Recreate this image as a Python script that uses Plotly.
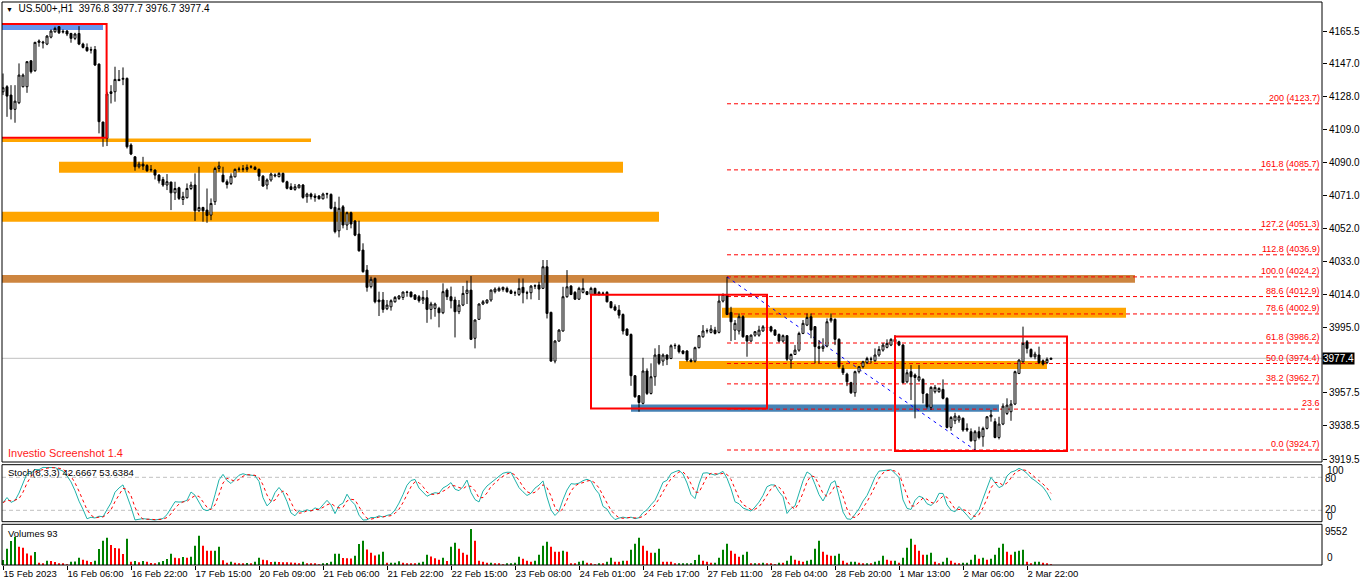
import pandas as pd
import plotly.graph_objects as go

# US.500+ H1 bars, first bar 15 Feb 2023 13:00
opens = [
    4130.6, 4133.5, 4128.7, 4120.5, 4124.3, 4133.5, 4133.5, 4148.4, 4142.7, 4159.0,
    4158.6, 4158.0, 4162.0, 4165.1, 4168.0, 4164.9, 4165.5, 4164.1, 4161.3, 4164.1,
    4158.0, 4156.1, 4154.8, 4154.9, 4146.5, 4113.2, 4103.8, 4130.6, 4130.6, 4137.7,
    4137.8, 4138.3, 4100.0, 4093.2, 4087.5, 4089.0, 4088.2, 4086.0, 4085.6, 4082.7,
    4080.2, 4077.0, 4078.7, 4072.5, 4075.4, 4068.7, 4069.7, 4075.0, 4077.0, 4062.2,
    4064.1, 4062.6, 4059.7, 4067.4, 4086.5, 4082.7, 4078.9, 4077.9, 4081.7, 4086.0,
    4086.0, 4086.0, 4087.3, 4087.1, 4086.0, 4082.1, 4077.0, 4079.9, 4082.2, 4081.8,
    4083.7, 4078.9, 4076.0, 4074.5, 4075.4, 4077.0, 4070.3, 4071.8, 4070.7, 4070.7,
    4069.1, 4071.8, 4071.6, 4064.2, 4050.7, 4064.5, 4054.0, 4061.1, 4056.3, 4048.8,
    4039.6, 4028.1, 4018.6, 4023.3, 4010.9, 4010.9, 4005.9, 4007.0, 4009.9, 4011.8,
    4012.4, 4015.5, 4015.5, 4013.8, 4012.8, 4010.9, 4012.2, 4005.5, 4006.1, 4006.1,
    4003.6, 4016.6, 4012.8, 4010.9, 4004.2, 4008.0, 4014.7, 4016.6, 3988.9, 3999.8,
    4008.6, 4009.4, 4010.9, 4015.7, 4016.2, 4017.0, 4017.6, 4016.2, 4015.1, 4014.1,
    4018.2, 4015.1, 4015.1, 4018.9, 4019.5, 4017.6, 4030.0, 4003.8, 3975.8, 3987.3,
    3993.1, 4012.8, 4018.9, 4015.3, 4011.4, 4015.3, 4015.7, 4014.1, 4017.6, 4014.1,
    4014.9, 4015.3, 4009.9, 4007.0, 4005.1, 4002.6, 3994.2, 3991.1, 3967.4, 3955.9,
    3951.5, 3970.1, 3957.2, 3966.8, 3979.6, 3975.8, 3979.3, 3977.3, 3984.6, 3984.6,
    3981.6, 3981.6, 3976.4, 3975.8, 3983.5, 3989.8, 3993.1, 3992.3, 3993.6, 3992.3,
    4010.3, 4014.1, 4003.8, 3993.6, 3993.1, 4001.3, 3990.4, 3987.3, 3990.7, 3990.7,
    3993.1, 3995.0, 3995.5, 3993.6, 3991.1, 3987.3, 3990.4, 3976.4, 3979.6, 3982.1,
    3991.7, 3996.5, 4001.3, 3995.6, 3984.1, 3983.1, 3984.4, 3999.0, 3999.8, 3988.3,
    3971.6, 3968.3, 3963.4, 3957.6, 3969.7, 3972.6, 3974.9, 3976.8, 3976.0, 3979.3,
    3982.1, 3983.7, 3985.0, 3988.3, 3986.9, 3985.0, 3963.9, 3969.7, 3967.8, 3964.9,
    3965.3, 3956.9, 3949.2, 3958.2, 3958.2, 3959.5, 3954.4, 3937.7, 3941.5, 3941.9,
    3942.9, 3937.1, 3935.2, 3930.0, 3935.2, 3932.3, 3937.1, 3943.8, 3941.0, 3931.9,
    3939.6, 3945.7, 3946.7, 3951.1, 3968.7, 3975.4, 3986.9, 3982.5, 3978.3, 3979.3,
    3976.0, 3974.9, 3976.8]
highs = [
    4141.1, 4134.4, 4134.4, 4134.4, 4146.9, 4141.1, 4147.9, 4148.8, 4159.3, 4160.7,
    4159.9, 4163.2, 4166.4, 4168.0, 4168.4, 4166.4, 4166.1, 4164.5, 4164.5, 4168.3,
    4158.8, 4158.4, 4156.5, 4156.9, 4146.9, 4113.4, 4130.6, 4134.4, 4145.0, 4143.1,
    4144.6, 4138.8, 4101.0, 4093.6, 4090.4, 4093.2, 4089.0, 4088.5, 4086.0, 4083.3,
    4081.7, 4083.3, 4078.9, 4078.9, 4076.0, 4073.1, 4077.9, 4078.9, 4083.7, 4087.5,
    4064.5, 4075.0, 4069.3, 4087.5, 4090.4, 4087.5, 4080.2, 4083.7, 4086.5, 4087.5,
    4088.5, 4088.8, 4088.5, 4088.0, 4086.5, 4082.7, 4080.8, 4084.1, 4083.7, 4084.3,
    4084.1, 4079.5, 4078.0, 4077.6, 4077.6, 4077.6, 4072.6, 4072.6, 4072.2, 4071.2,
    4072.6, 4072.6, 4072.2, 4067.4, 4070.3, 4065.5, 4061.7, 4061.7, 4056.9, 4056.5,
    4043.5, 4031.0, 4024.3, 4023.9, 4015.7, 4015.5, 4010.9, 4011.3, 4013.2, 4013.8,
    4015.7, 4016.2, 4015.7, 4014.3, 4013.8, 4016.2, 4016.6, 4009.9, 4009.4, 4007.0,
    4020.5, 4017.6, 4018.6, 4012.8, 4010.9, 4019.0, 4022.0, 4024.7, 3999.8, 4009.0,
    4010.9, 4011.3, 4017.0, 4018.2, 4018.6, 4018.6, 4018.6, 4017.0, 4016.2, 4023.3,
    4023.3, 4016.2, 4019.5, 4019.9, 4021.4, 4033.9, 4033.9, 4004.2, 3987.9, 3994.2,
    4018.5, 4028.1, 4019.5, 4016.0, 4018.5, 4023.3, 4016.0, 4018.5, 4018.0, 4016.0,
    4015.7, 4016.0, 4010.3, 4008.4, 4008.0, 4003.2, 3994.6, 3991.7, 3967.8, 3956.3,
    3977.7, 3971.6, 3974.5, 3983.1, 3985.0, 3980.2, 3979.6, 3985.4, 3986.0, 3985.4,
    3982.1, 3982.1, 3977.3, 3984.1, 3990.7, 3996.5, 3994.6, 3996.5, 3995.5, 4014.1,
    4014.7, 4024.2, 4007.0, 3999.4, 4003.2, 4002.2, 3990.7, 3991.1, 3993.1, 3996.1,
    3996.5, 3996.1, 3996.1, 3994.2, 3991.7, 3991.1, 3990.7, 3980.2, 3985.0, 3992.7,
    3999.4, 4003.2, 4003.2, 3995.9, 3987.9, 3988.9, 4000.3, 4003.2, 4000.3, 3988.9,
    3973.5, 3969.1, 3963.9, 3970.3, 3972.9, 3976.0, 3978.3, 3978.3, 3983.1, 3984.4,
    3986.3, 3988.3, 3988.9, 3990.8, 3987.5, 3985.6, 3971.0, 3973.5, 3968.7, 3973.5,
    3965.9, 3957.2, 3961.4, 3962.1, 3960.7, 3965.3, 3955.0, 3944.2, 3946.1, 3944.8,
    3943.4, 3940.0, 3937.1, 3936.2, 3938.1, 3938.1, 3944.2, 3947.7, 3942.9, 3943.8,
    3951.5, 3954.4, 3953.4, 3970.3, 3976.8, 3995.6, 3987.9, 3983.1, 3981.2, 3984.1,
    3976.8, 3977.9, 3977.7]
lows = [
    4128.7, 4116.2, 4114.7, 4112.8, 4123.5, 4133.1, 4130.0, 4141.1, 4142.1, 4156.5,
    4155.5, 4157.4, 4161.3, 4164.5, 4163.8, 4164.1, 4162.6, 4158.8, 4160.3, 4157.4,
    4155.5, 4153.6, 4152.6, 4145.4, 4106.7, 4099.0, 4099.4, 4123.9, 4124.9, 4136.8,
    4134.4, 4098.0, 4094.2, 4085.2, 4086.5, 4085.6, 4084.6, 4084.6, 4080.2, 4077.9,
    4076.0, 4074.1, 4062.6, 4068.4, 4068.4, 4065.5, 4069.3, 4074.1, 4056.4, 4061.6,
    4055.9, 4055.3, 4056.8, 4065.5, 4084.6, 4078.5, 4075.0, 4077.0, 4081.4, 4084.6,
    4084.6, 4084.6, 4086.5, 4085.6, 4079.4, 4076.0, 4074.5, 4078.9, 4081.4, 4081.4,
    4078.3, 4074.5, 4074.1, 4073.7, 4075.1, 4069.1, 4066.8, 4068.7, 4067.4, 4068.7,
    4068.7, 4069.3, 4063.0, 4049.2, 4046.9, 4052.1, 4051.1, 4052.1, 4047.6, 4038.7,
    4026.6, 4015.7, 4017.6, 4009.0, 4001.7, 4003.6, 4005.1, 4004.8, 4009.4, 4010.9,
    4010.9, 4012.8, 4012.4, 4010.9, 4009.4, 4008.6, 3997.8, 3999.8, 4001.3, 3995.2,
    4002.8, 4010.9, 4006.1, 3989.4, 4002.8, 4007.4, 4008.6, 3987.9, 3983.1, 3999.4,
    4008.0, 4008.6, 4009.9, 4014.7, 4015.7, 4015.7, 4015.1, 4014.3, 4013.2, 4013.2,
    4009.0, 4011.3, 4011.3, 4017.2, 4010.9, 4017.2, 4000.3, 3975.4, 3974.5, 3986.9,
    3992.7, 4012.2, 4013.7, 4010.9, 4010.9, 4014.7, 4013.7, 4013.7, 4013.7, 4013.4,
    4013.7, 4009.5, 4006.1, 4004.5, 4000.3, 3991.1, 3990.4, 3961.6, 3954.7, 3946.7,
    3950.9, 3956.3, 3956.6, 3961.6, 3973.5, 3973.1, 3973.5, 3976.9, 3982.7, 3980.2,
    3979.6, 3975.4, 3975.0, 3975.0, 3983.1, 3989.2, 3991.7, 3991.7, 3991.1, 3991.7,
    4009.5, 4002.2, 3987.3, 3987.9, 3991.1, 3989.2, 3978.3, 3986.9, 3989.8, 3989.8,
    3992.7, 3993.6, 3992.3, 3990.4, 3986.5, 3986.5, 3975.8, 3971.6, 3979.3, 3981.2,
    3991.3, 3995.9, 3988.9, 3974.5, 3974.5, 3981.2, 3983.7, 3997.9, 3985.0, 3971.6,
    3967.8, 3961.4, 3956.9, 3955.3, 3968.7, 3971.6, 3974.1, 3974.5, 3975.4, 3978.3,
    3981.2, 3983.1, 3984.4, 3986.3, 3984.4, 3963.0, 3963.0, 3953.4, 3942.9, 3963.9,
    3951.5, 3948.6, 3947.7, 3957.2, 3957.6, 3953.8, 3937.1, 3935.8, 3939.6, 3940.4,
    3935.2, 3935.2, 3929.5, 3924.7, 3930.8, 3926.6, 3936.5, 3941.0, 3931.4, 3930.8,
    3939.0, 3944.8, 3941.5, 3950.5, 3968.3, 3974.9, 3980.2, 3977.9, 3976.8, 3974.1,
    3973.3, 3974.1, 3976.7]
closes = [
    4132.9, 4128.1, 4120.5, 4125.2, 4140.2, 4140.2, 4147.9, 4142.1, 4159.0, 4159.8,
    4159.1, 4162.6, 4165.5, 4167.0, 4164.5, 4165.3, 4163.8, 4161.3, 4163.8, 4158.0,
    4156.1, 4154.2, 4154.6, 4146.0, 4113.4, 4104.4, 4129.3, 4129.6, 4137.7, 4137.0,
    4138.3, 4099.0, 4094.8, 4087.5, 4089.0, 4087.9, 4085.2, 4085.8, 4082.7, 4079.4,
    4077.0, 4078.9, 4072.5, 4075.0, 4069.3, 4070.3, 4075.0, 4077.0, 4062.2, 4064.1,
    4062.2, 4059.5, 4066.4, 4086.5, 4087.9, 4078.9, 4077.3, 4082.1, 4086.0, 4086.2,
    4086.3, 4087.1, 4087.5, 4086.0, 4082.1, 4076.4, 4079.9, 4083.3, 4082.7, 4083.7,
    4078.9, 4075.1, 4074.5, 4076.0, 4077.0, 4069.9, 4071.8, 4070.3, 4069.9, 4069.1,
    4071.8, 4072.0, 4063.6, 4050.2, 4063.6, 4054.0, 4061.1, 4054.6, 4048.2, 4039.2,
    4027.2, 4018.2, 4022.8, 4009.9, 4009.9, 4005.5, 4008.0, 4010.5, 4012.4, 4013.2,
    4015.5, 4015.3, 4012.8, 4011.3, 4010.5, 4012.4, 4005.5, 4008.6, 4008.6, 4003.6,
    4015.7, 4012.8, 4010.5, 4004.2, 4008.0, 4014.7, 4016.6, 3988.3, 3999.4, 4008.6,
    4009.9, 4010.9, 4016.6, 4017.2, 4017.6, 4018.2, 4015.7, 4014.7, 4015.0, 4017.6,
    4015.1, 4014.9, 4018.9, 4019.1, 4017.2, 4030.0, 4003.2, 3975.8, 3987.3, 3993.6,
    4012.8, 4018.5, 4014.1, 4011.4, 4017.6, 4017.6, 4014.1, 4017.6, 4014.1, 4015.3,
    4014.7, 4009.9, 4006.5, 4005.1, 4002.2, 3993.1, 3990.7, 3967.4, 3955.3, 3952.0,
    3970.1, 3957.2, 3966.8, 3979.3, 3974.5, 3979.3, 3976.9, 3984.6, 3984.8, 3981.2,
    3980.2, 3976.4, 3975.6, 3983.5, 3990.4, 3993.1, 3993.3, 3994.2, 3991.7, 4010.3,
    4014.1, 4002.6, 3998.4, 3997.5, 4001.3, 3989.8, 3987.3, 3990.7, 3992.7, 3993.6,
    3995.5, 3995.2, 3993.1, 3990.7, 3987.3, 3990.4, 3976.9, 3979.6, 3982.1, 3991.7,
    3997.5, 4000.9, 3993.6, 3984.1, 3983.1, 3984.4, 3998.4, 4000.3, 3988.3, 3972.6,
    3969.1, 3963.9, 3957.6, 3969.7, 3972.6, 3975.4, 3977.3, 3977.0, 3979.3, 3982.5,
    3985.0, 3986.0, 3988.3, 3986.9, 3985.0, 3963.4, 3969.1, 3966.8, 3966.4, 3966.8,
    3957.2, 3949.6, 3960.7, 3960.7, 3960.1, 3954.4, 3937.7, 3943.4, 3944.2, 3943.8,
    3936.2, 3936.2, 3930.0, 3935.2, 3931.9, 3937.1, 3943.8, 3944.8, 3931.9, 3939.6,
    3949.9, 3950.5, 3951.1, 3969.7, 3976.4, 3986.0, 3983.1, 3978.3, 3979.8, 3974.9,
    3974.1, 3976.8, 3977.4]
volumes = [
    1320, 4310, 6340, 7480, 4840, 4580, 3080, 2550, 3430, 616,
    352, 1144, 1056, 792, 352, 264, 176, 880, 900, 1936,
    1408, 1144, 792, 1144, 4224, 6424, 7216, 5280, 4490, 4400,
    2904, 6952, 880, 1056, 704, 1056, 880, 528, 352, 704,
    1056, 1584, 2992, 1936, 1760, 2112, 1936, 2200, 5104, 7744,
    5104, 3784, 3780, 3800, 4840, 1232, 616, 880, 616, 440,
    264, 528, 352, 880, 1936, 1408, 1232, 792, 880, 792,
    704, 700, 690, 616, 352, 880, 440, 264, 260, 176,
    264, 528, 880, 2992, 3000, 1848, 1760, 1750, 2464, 5600,
    6424, 4136, 3256, 2552, 2816, 3520, 616, 620, 630, 968,
    616, 352, 350, 340, 616, 880, 2728, 2288, 1760, 1408,
    1936, 1056, 4840, 5896, 4312, 3256, 2728, 9552, 6424, 1144,
    880, 616, 620, 352, 350, 176, 352, 360, 616, 2200,
    1672, 1144, 880, 1144, 2728, 5104, 6160, 4840, 3520, 3500,
    3784, 3520, 352, 350, 880, 1144, 616, 352, 88, 352,
    350, 880, 1936, 880, 870, 1144, 1140, 4048, 5632, 7216,
    5104, 3784, 3256, 3260, 4312, 880, 870, 860, 352, 360,
    370, 380, 390, 1320, 2728, 1144, 880, 616, 620, 1936,
    4048, 5632, 3784, 2992, 2200, 2728, 3520, 352, 360, 350,
    616, 352, 350, 88, 616, 610, 1144, 2464, 1408, 1144,
    880, 1144, 1408, 4312, 6424, 3520, 2728, 2464, 2470, 2992,
    1144, 616, 880, 890, 616, 352, 360, 350, 880, 1144,
    2464, 1408, 1144, 1150, 616, 1936, 4576, 6952, 5368, 3784,
    2728, 2730, 3256, 880, 352, 880, 1936, 1144, 616, 352,
    616, 620, 1408, 2728, 1672, 1936, 1408, 1672, 2728, 4576,
    5632, 3520, 2728, 3520, 3784, 4048, 880, 352, 880, 890,
    616, 352, 93]

tick_labels = ["15 Feb 2023", "16 Feb 06:00", "16 Feb 22:00", "17 Feb 15:00",
               "20 Feb 09:00", "21 Feb 06:00", "21 Feb 22:00", "22 Feb 15:00",
               "23 Feb 08:00", "24 Feb 01:00", "24 Feb 17:00", "27 Feb 11:00",
               "28 Feb 04:00", "28 Feb 20:00", "1 Mar 13:00", "2 Mar 06:00",
               "2 Mar 22:00"]
bars_per_label = 16
price_ticks = [4165.5, 4147.0, 4128.0, 4109.0, 4090.0, 4071.0, 4052.0, 4033.0,
               4014.0, 3995.0, 3957.5, 3938.5, 3919.5]
last_price = 3977.4

# fibonacci drawn from the 27 Feb high to the 2 Mar low
fib_labels = ["200 (4123.7)", "161.8 (4085.7)", "127.2 (4051.3)", "112.8 (4036.9)",
              "100.0 (4024.2)", "88.6 (4012.9)", "78.6 (4002.9)", "61.8 (3986.2)",
              "50.0 (3974.4)", "38.2 (3962.7)", "23.6", "0.0 (3924.7)"]
fib_prices = [4123.7, 4085.7, 4051.3, 4036.9, 4024.2, 4012.9, 4002.9, 3986.2,
              3974.4, 3962.7, 3948.2, 3924.7]
fib_high_bar, fib_low_bar = 181, 243

# horizontal zones (bar from, bar to, upper price, lower price)
zone_from = [-2, -2, 14, -2, -2, 179.75, 169, 157]
zone_to = [25, 77, 155, 164, 283, 280.75, 261, 249]
zone_hi = [4169.5, 4103.8, 4090.4, 4061.6, 4025.3, 4006.5, 3975.8, 3950.9]
zone_lo = [4166.1, 4101.7, 4084.1, 4055.9, 4020.8, 4000.7, 3971.2, 3946.7]
zone_col = ["#6495ED", "#FFA500", "#FFA500", "#FFA500", "#CD853F", "#FFA500",
            "#FFA500", "#4682B4"]

# red boxes
box_from = [-5, 147, 223]
box_to = [25.9, 191, 266]
box_hi = [4169.5, 4014.0, 3989.9]
box_lo = [4104.2, 3948.5, 3924.1]

n = min(len(opens), len(highs), len(lows), len(closes), len(volumes))
bars = list(range(n))

df = pd.DataFrame({"o": opens[:n], "h": highs[:n], "l": lows[:n],
                   "c": closes[:n], "v": volumes[:n]})

# Stochastic 8,3,3
hh = df.h.rolling(8, min_periods=1).max()
ll = df.l.rolling(8, min_periods=1).min()
stoch_k = 100 * (df.c - ll).rolling(3, min_periods=1).sum() / (hh - ll).rolling(3, min_periods=1).sum()
stoch_d = stoch_k.rolling(3, min_periods=1).mean()

vol_colors = ["#008000" if i == 0 or df.v[i] > df.v[i - 1] else "#FF0000" for i in bars]

# pixel helpers (page is 1362 x 585, plot area y from 2 to 565)
def py(y):
    return (565 - y) / 563

def px(x):
    return (x - 2) / 1320

FONT = "Liberation Sans"

fig = go.Figure()

fig.add_trace(go.Candlestick(
    x=bars, open=df.o, high=df.h, low=df.l, close=df.c,
    increasing=dict(line=dict(color="black", width=1), fillcolor="white"),
    decreasing=dict(line=dict(color="black", width=1), fillcolor="black"),
    whiskerwidth=0, hoverinfo="skip", showlegend=False,
    xaxis="x", yaxis="y"))

fig.add_trace(go.Scatter(x=bars, y=stoch_k, mode="lines",
                         line=dict(color="#20B2AA", width=1),
                         hoverinfo="skip", showlegend=False, xaxis="x", yaxis="y2"))
fig.add_trace(go.Scatter(x=bars, y=stoch_d, mode="lines",
                         line=dict(color="#FF0000", width=1, dash="dot"),
                         hoverinfo="skip", showlegend=False, xaxis="x", yaxis="y2"))

fig.add_trace(go.Bar(x=bars, y=df.v, width=0.25, marker=dict(color=vol_colors, line=dict(width=0)),
                     hoverinfo="skip", showlegend=False, xaxis="x", yaxis="y3"))

shapes = []
for x0, x1, hi, lo, col in zip(zone_from, zone_to, zone_hi, zone_lo, zone_col):
    shapes.append(dict(type="rect", xref="x", yref="y", x0=x0, x1=x1, y0=lo, y1=hi,
                       fillcolor=col, line=dict(width=0), layer="below"))

shapes.append(dict(type="line", xref="x domain", yref="y", x0=0, x1=1,
                   y0=last_price, y1=last_price, line=dict(color="#C0C0C0", width=1),
                   layer="below"))

for p in fib_prices:
    shapes.append(dict(type="line", xref="x", yref="y", x0=fib_high_bar, x1=329.75,
                       y0=p, y1=p, line=dict(color="#FF0000", width=1, dash="4px,3px"),
                       layer="below"))

shapes.append(dict(type="line", xref="x", yref="y",
                   x0=fib_high_bar, x1=fib_low_bar, y0=fib_prices[4], y1=fib_prices[-1],
                   line=dict(color="#0000FF", width=1, dash="3px,4px"), layer="below"))

for x0, x1, hi, lo in zip(box_from, box_to, box_hi, box_lo):
    shapes.append(dict(type="rect", xref="x", yref="y", x0=x0, x1=x1, y0=lo, y1=hi,
                       line=dict(color="#FF0000", width=2), layer="above"))

for lvl in (80, 20):
    shapes.append(dict(type="line", xref="x domain", yref="y2", x0=0, x1=1, y0=lvl, y1=lvl,
                       line=dict(color="#C0C0C0", width=1, dash="4px,3px"), layer="below"))

# panel frames
for y0, y1 in ((py(462), 1.0), (py(521.7), py(464.7)), (0.0, py(524.3))):
    shapes.append(dict(type="rect", xref="paper", yref="paper", x0=0, x1=1, y0=y0, y1=y1,
                       line=dict(color="black", width=1), layer="above"))

annotations = []
for lab, p in zip(fib_labels, fib_prices):
    annotations.append(dict(x=329.4, y=p, xref="x", yref="y", text=lab, showarrow=False,
                            xanchor="right", yanchor="bottom", borderpad=0,
                            font=dict(family=FONT, size=9, color="#FF0000")))

annotations.append(dict(x=1.0, y=last_price, xref="paper", yref="y", text="3977.4",
                        showarrow=False, xanchor="left", yanchor="middle", bgcolor="black",
                        borderpad=0, font=dict(family=FONT, size=10, color="white")))

def note(text, x, y, size=10, color="black"):
    annotations.append(dict(x=px(x), y=py(y), xref="paper", yref="paper", text=text,
                            showarrow=False, xanchor="left", yanchor="middle", borderpad=0,
                            font=dict(family=FONT, size=size, color=color)))

note("<span style='font-size:7px'>▼</span>\u00a0\u00a0US.500+,H1\u00a0\u00a03976.8 3977.7 3976.7 3977.4", 5, 9)
note("Investio Screenshot 1.4", 7, 453, size=11, color="#FF1A1A")
note("Stoch(8,3,3) 42.6667 53.6384", 7, 473, size=9.5)
note("Volumes 93", 7, 533, size=9.5)
note("100", 1326, 470.5)
note("80", 1323.5, 478)
note("20", 1323.5, 509.5)
note("0", 1326, 516.5)
note("9552", 1323.5, 531)
note("0", 1325.5, 557)

fig.update_layout(
    width=1362, height=585,
    margin=dict(l=2, r=40, t=2, b=20),
    paper_bgcolor="white", plot_bgcolor="white",
    showlegend=False, hovermode=False, dragmode=False,
    boxgap=0.3,
    font=dict(family=FONT, size=10, color="black"),
    xaxis=dict(domain=[0, 1], range=[-0.25, 329.75], anchor="y3",
               showgrid=False, zeroline=False, showline=False,
               ticks="outside", ticklen=4, tickcolor="black", tickangle=0,
               tickvals=[i * bars_per_label for i in range(len(tick_labels))],
               ticktext=tick_labels, ticklabelposition="outside right",
               tickfont=dict(family=FONT, size=9.5, color="black"),
               rangeslider=dict(visible=False), fixedrange=True),
    yaxis=dict(domain=[py(462), 1.0], range=[3917.8, 4182.2], side="right", anchor="x",
               tickvals=price_ticks, ticktext=[f"{v:.1f}" for v in price_ticks],
               ticks="outside", ticklen=4, tickcolor="black",
               showgrid=False, zeroline=False, showline=False,
               tickfont=dict(family=FONT, size=10, color="black"), fixedrange=True),
    yaxis2=dict(domain=[py(521.3), py(466.3)], range=[0, 100], anchor="x",
                showticklabels=False, showgrid=False, zeroline=False, ticks="",
                fixedrange=True),
    yaxis3=dict(domain=[0, py(524.3)], range=[0, 10800], anchor="x",
                showticklabels=False, showgrid=False, zeroline=False, ticks="",
                fixedrange=True),
    shapes=shapes,
    annotations=annotations,
)

fig.write_html("out.html", config={"displayModeBar": False},
               post_script="document.body.style.margin='0px';document.body.style.overflow='hidden';")
